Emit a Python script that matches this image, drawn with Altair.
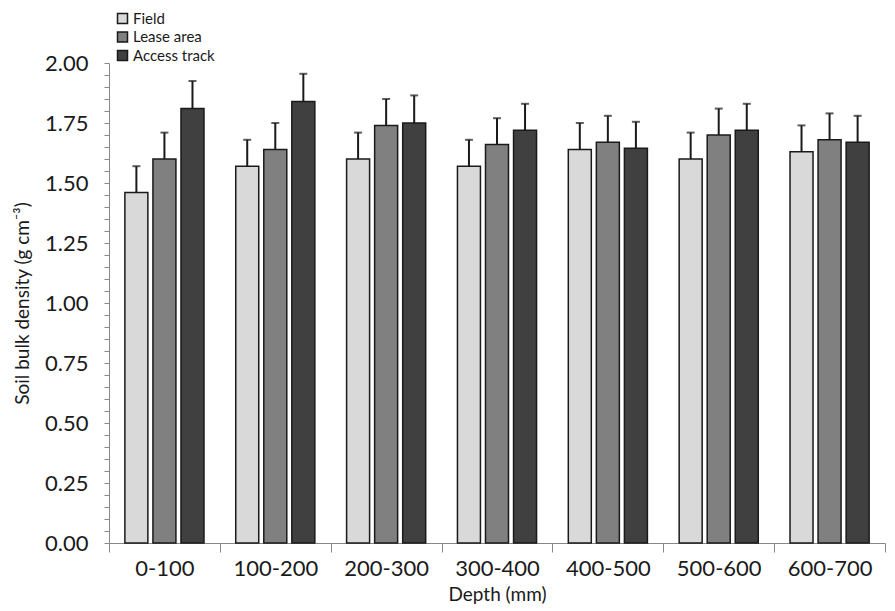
import altair as alt
import pandas as pd

depths = ["0-100", "100-200", "200-300", "300-400", "400-500", "500-600", "600-700"]
series = ["Field", "Lease area", "Access track"]
colors = ["#d9d9d9", "#808080", "#404040"]

field = [1.46, 1.57, 1.60, 1.57, 1.64, 1.60, 1.63]
field_err = [0.11, 0.11, 0.11, 0.11, 0.11, 0.11, 0.11]
lease = [1.60, 1.64, 1.74, 1.66, 1.67, 1.70, 1.68]
lease_err = [0.11, 0.11, 0.11, 0.11, 0.11, 0.11, 0.11]
access = [1.81, 1.84, 1.75, 1.72, 1.645, 1.72, 1.67]
access_err = [0.115, 0.115, 0.115, 0.11, 0.11, 0.11, 0.11]

y_ticks = [round(i * 0.05, 2) for i in range(41)]

rows = []
for s, vals, errs in [("Field", field, field_err), ("Lease area", lease, lease_err), ("Access track", access, access_err)]:
    for d, v, e in zip(depths, vals, errs):
        rows.append({"depth": d, "series": s, "value": v, "top": v + e})
df = pd.DataFrame(rows)

x_axis = alt.Axis(title="Depth (mm)", labelAngle=0, tickBand="extent",
                  tickSize=9, domainColor="#888888", tickColor="#888888",
                  labelFontSize=22, labelColor="#1a1a1a", labelPadding=6,
                  titleFontSize=19, titleFontWeight="normal", titleColor="#1a1a1a",
                  titlePadding=6)
y_axis = alt.Axis(title="Soil bulk density (g cm⁻³)", values=y_ticks,
                  labelExpr="abs(datum.value*4 - round(datum.value*4)) < 0.001 ? format(datum.value, '.2f') : ''",
                  labelOverlap=False, grid=False, tickSize=5,
                  domainColor="#888888", tickColor="#888888",
                  labelFontSize=22, labelColor="#1a1a1a", labelPadding=16,
                  titleFontSize=19, titleFontWeight="normal", titleColor="#1a1a1a",
                  titlePadding=12)

x_scale = alt.Scale(paddingInner=0, paddingOuter=0)
xo_scale = alt.Scale(domain=series, paddingInner=0.18, paddingOuter=0.566)
y_scale = alt.Scale(domain=[0, 2])

X = alt.X("depth:N", sort=depths, scale=x_scale, axis=x_axis)
XO = alt.XOffset("series:N", sort=series, scale=xo_scale)

base = alt.Chart(df)

bars = base.mark_bar(stroke="#1a1a1a", strokeWidth=1.5).encode(
    x=X,
    xOffset=XO,
    y=alt.Y("value:Q", scale=y_scale, axis=y_axis),
    color=alt.Color("series:N", sort=series,
                    scale=alt.Scale(domain=series, range=colors),
                    legend=alt.Legend(title=None, orient="none", legendX=6, legendY=-52,
                                      symbolType="square", symbolSize=100,
                                      symbolStrokeColor="#1a1a1a", symbolStrokeWidth=1.5,
                                      labelFontSize=15, labelColor="#1a1a1a",
                                      rowPadding=1.5, labelOffset=3)),
)

err = base.mark_rule(color="#1a1a1a", strokeWidth=2).encode(
    x=X,
    xOffset=XO,
    y=alt.Y("value:Q", scale=y_scale, axis=y_axis),
    y2="top:Q",
)

caps = base.mark_tick(color="#1a1a1a", thickness=2, size=8).encode(
    x=X,
    xOffset=XO,
    y=alt.Y("top:Q", scale=y_scale, axis=y_axis),
)

chart = (bars + err + caps).properties(
    width=776, height=480,
    padding={"left": 5, "top": 3, "right": 0, "bottom": 0},
).configure(font="Lato").configure_view(stroke=None)

chart.save("out.html", embed_options={"renderer": "svg", "actions": False})
